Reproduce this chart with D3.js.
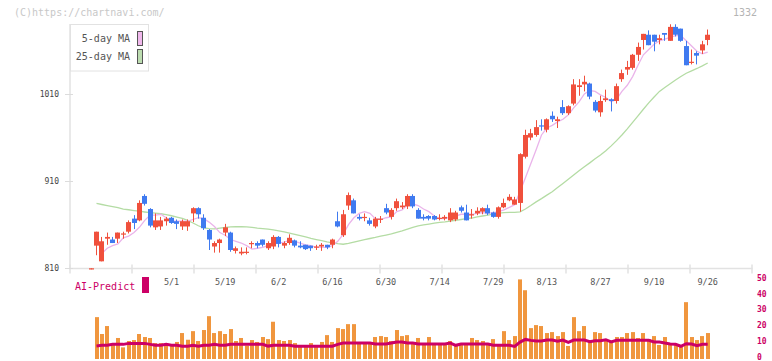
<!DOCTYPE html>
<html><head><meta charset="utf-8">
<script src="https://cdn.jsdelivr.net/npm/d3@7"></script>
<style>body{margin:0;background:#fff}svg{display:block}</style>
</head><body><svg id="c" width="772" height="361"></svg>
<script>
// ---- data ----
const dates = ["4/9","4/10","4/11","4/14","4/15","4/16","4/17","4/18","4/21","4/22","4/23","4/24","4/25","4/28","4/30",
"5/1","5/2","5/7","5/8","5/9","5/12","5/13","5/14","5/15","5/16","5/19","5/20","5/21","5/22","5/23","5/26","5/27","5/28","5/29","5/30",
"6/2","6/3","6/4","6/5","6/6","6/9","6/10","6/11","6/12","6/13","6/16","6/17","6/18","6/19","6/20","6/23","6/24","6/25","6/26","6/27","6/30",
"7/1","7/2","7/3","7/4","7/7","7/8","7/9","7/10","7/11","7/14","7/15","7/16","7/17","7/18","7/22","7/23","7/24","7/25","7/28","7/29","7/30","7/31",
"8/1","8/4","8/5","8/6","8/7","8/8","8/12","8/13","8/14","8/15","8/18","8/19","8/20","8/21","8/22","8/25","8/26","8/27","8/28","8/29",
"9/1","9/2","9/3","9/4","9/5","9/8","9/9","9/10","9/11","9/12","9/16","9/17","9/18","9/19","9/22","9/24","9/25","9/26"];
const open = [795,836,818,844,843,844,849,852,867,865,893,878,857,858,864,868,864,858,858,873,879,868,854,835,839,851,851,830,827,828,838,
839,843,833,835,846,836,839,842,836,837,836,835,835,837,837,864,848,882,888,869,868,865,858,866,879,869,879,880,881,893,877,
869,870,870,867,867,865,866,880,874,871,873,875,879,874,869,880,888,883,885,938,960,963,974,969,985,979,995,988,999,1018,1021,
1022,1001,989,1003,1004,1002,1027,1038,1040,1055,1072,1078,1078,1072,1080,1071,1087,1085,1065,1046,1057,1060,1072];
const high = [806,852,846,851,846,851,852,865,871,888,895,879,873,869,869,869,866,866,866,880,880,872,855,841,844,861,852,835,834,834,841,
841,843,841,848,847,841,849,843,841,837,836,837,839,837,844,875,877,897,890,872,873,868,869,870,884,879,890,886,895,895,879,
872,871,871,872,871,879,876,882,883,878,880,880,883,875,881,890,895,892,942,969,970,980,981,982,990,984,1003,997,1027,1027,1031,
1023,1003,1008,1015,1005,1022,1038,1048,1056,1069,1079,1083,1078,1078,1080,1090,1090,1085,1071,1061,1059,1071,1084];
const low = [788,825,818,837,839,839,844,850,855,864,882,857,854,854,859,861,855,854,853,863,867,854,831,828,828,847,829,827,825,826,833,
833,835,831,832,834,833,837,834,833,831,830,831,830,832,833,857,846,877,873,865,864,859,856,862,872,866,876,878,878,879,867,
865,865,865,865,865,863,864,874,865,867,871,872,871,868,867,879,887,883,875,936,957,961,968,966,978,971,986,986,997,1008,1013,
1004,989,984,1001,990,999,1024,1032,1038,1048,1061,1066,1059,1067,1071,1071,1076,1070,1043,1044,1044,1056,1066];
const close = [804,852,841,846,839,851,850,863,862,885,884,859,865,865,867,862,861,864,864,879,872,856,843,839,843,857,831,833,829,829,839,
836,837,839,846,838,839,845,836,834,832,833,835,837,834,843,858,872,894,873,867,869,861,867,867,874,877,887,882,893,881,867,
867,867,866,868,869,874,874,876,865,872,876,879,873,869,880,885,892,889,941,963,965,972,973,981,981,981,988,996,1021,1020,1024,
1007,991,1002,1005,1002,1019,1034,1041,1055,1064,1079,1066,1070,1074,1078,1087,1078,1071,1043,1047,1054,1067,1078];
const ma5 = [null,null,827,833,836,838,845,847,851,857,865,871,871,872,868,864,864,864,864,866,868,867,863,858,851,848,843,841,839,836,832,
833,834,836,839,839,840,842,841,839,837,836,834,834,834,836,841,849,860,868,873,875,873,867,866,868,869,875,877,883,884,882,
878,875,870,867,867,869,870,872,872,872,873,874,873,874,875,877,880,883,898,914,930,946,963,971,974,978,981,986,994,1001,1010,
1014,1013,1009,1006,1001,1004,1013,1020,1030,1043,1055,1061,1067,1071,1073,1075,1077,1077,1071,1065,1059,1056,1058];
const ma25 = [null,884.5,883.2,882,880.7,879.5,878,877.2,876.3,875.5,874.6,873.8,873.3,872.6,871.6,870.3,868.8,867.4,865,862,858.8,856.4,
855.6,855.2,856,856.8,857.5,857.7,857.7,857.5,857,856.2,855.6,855,854,853,851.8,850.4,849,847.5,846,844.3,843,841.7,840.4,839.3,
838.3,837.6,838.5,840,841.5,843,844.2,845.4,846.8,848.1,849.5,851.3,853,855,857,858.8,859.8,860.8,861.8,862.6,863.3,864.2,865.1,
866,866.9,867.7,868.9,870,871.1,872.2,873.3,874,874.2,874.2,874.8,878,882,886.2,890,894,897.8,902.6,907.4,912.2,917,922,926.6,
931,935.6,940,944.8,950.5,956.5,963,970,977.5,985,992.5,999.8,1006.5,1013,1017.5,1021.8,1026,1030,1033.8,1036.5,1039.3,1042.3,1045.6];
const volume = [null,26.3,15.7,20.7,9.2,13.2,7.3,11.3,11.9,15.7,13.8,13.2,10.0,10.0,9.6,8.8,10.7,16.3,12.1,17.5,11.3,18.2,26.9,16.3,17.5,
15.7,18.8,11.3,13.2,8.4,11.9,10.7,13.8,12.5,23.4,11.9,11.3,11.9,10.0,8.2,8.2,10.0,8.2,10.7,15.0,10.7,19.4,18.8,21.9,21.9,10.0,10.0,
9.4,13.8,14.4,13.8,11.3,18.2,14.4,15.0,9.4,13.2,9.4,13.8,9.4,9.4,9.4,11.3,8.8,9.4,10.0,13.2,11.9,11.3,9.4,12.5,9.4,17.5,11.9,14.4,
50.0,43.2,19.4,21.3,20.7,16.3,16.9,14.4,16.9,8.2,26.3,17.5,20.7,11.9,16.9,16.3,11.9,11.3,13.8,13.8,16.3,16.9,13.2,16.3,12.5,14.4,
8.8,13.8,9.4,9.4,8.8,35.7,13.8,11.9,14.4,16.3];
const volumeMA = [null,8.2,8.6,8.6,9.2,9.2,9.2,9.8,9.8,9.8,9.8,9.2,8.6,8.6,9.2,8.6,8.6,8.0,8.0,8.6,8.0,8.6,8.6,9.2,8.6,8.6,9.2,9.2,9.2,
9.2,9.2,9.2,9.2,8.1,8.6,8.6,8.6,8.6,8.0,8.0,8.0,8.0,8.0,8.0,8.0,8.0,9.2,10.0,10.0,10.0,10.0,10.0,10.0,9.4,9.4,9.4,10.0,10.7,10.7,
10.0,10.0,9.4,9.4,9.4,9.4,9.4,9.4,10.0,8.6,9.4,9.4,9.4,9.4,9.4,9.4,8.6,8.6,8.6,8.6,7.9,10.6,12.3,11.7,11.3,11.3,11.9,11.9,11.1,
11.9,10.4,11.9,11.9,11.9,10.9,11.5,11.5,12.1,10.7,11.7,11.7,11.7,11.7,11.7,11.7,11.7,10.7,10.7,10.0,9.4,9.2,8.0,9.6,9.4,8.3,9.2,9.2];
const priceTicks = [810, 910, 1010];
const volumeTicks = [0, 10, 20, 30, 40, 50];
const dateLabels = ["5/1","5/19","6/2","6/16","6/30","7/14","7/29","8/13","8/27","9/10","9/26"];
const gridSteps = d3.range(0, 12);

// ---- drawing ----
const svg = d3.select("#c");
const mono = "'DejaVu Sans Mono', monospace";
const RED = "#f0503c", BLUE = "#3f7af0";
const n = dates.length;
const x = d3.scaleLinear().domain([1, n - 1]).range([96.5, 707.7]);
const y = d3.scaleLinear().domain([810, 1110]).range([268.3, 6.85]).clamp(true);
const yv = d3.scaleLinear().domain([0, 50]).range([359, 279.4]);
const grid = d3.scaleLinear().domain([0, 11]).range([70, 752]);

// watermark & code
svg.append("text").attr("x", 14).attr("y", 16).attr("font-family", mono).attr("font-size", 10)
  .attr("fill", "#c8c8c8").text("(C)https://chartnavi.com/");
svg.append("text").attr("x", 757).attr("y", 16).attr("text-anchor", "end").attr("font-family", mono)
  .attr("font-size", 10).attr("fill", "#b4b4b4").text("1332");

// axes lines
const axisCol = "#e2e2e2";
svg.append("line").attr("x1", 70).attr("x2", 70).attr("y1", 24).attr("y2", 269).attr("stroke", axisCol).attr("stroke-width", 1.5);
svg.append("line").attr("x1", 69).attr("x2", 752.5).attr("y1", 268.5).attr("y2", 268.5).attr("stroke", axisCol).attr("stroke-width", 1.5);
svg.selectAll(".gt").data(gridSteps).join("line")
  .attr("x1", d => grid(d)).attr("x2", d => grid(d)).attr("y1", 264.5).attr("y2", 273.5)
  .attr("stroke", axisCol).attr("stroke-width", 1.5);

// price ticks
svg.selectAll(".pt").data(priceTicks).join("line")
  .attr("x1", 65).attr("x2", 73).attr("y1", d => Math.round(y(d)) + 0.5).attr("y2", d => Math.round(y(d)) + 0.5)
  .attr("stroke", "#dcdcdc");
svg.selectAll(".pl").data(priceTicks).join("text")
  .attr("x", 59).attr("y", d => y(d) + 3).attr("text-anchor", "end")
  .attr("font-family", mono).attr("font-size", 8).attr("fill", "#444").text(d => d);

// date labels
svg.selectAll(".dl").data(dateLabels).join("text")
  .attr("x", d => x(dates.indexOf(d))).attr("y", 285).attr("text-anchor", "middle")
  .attr("font-family", mono).attr("font-size", 8.5).attr("fill", "#555").text(d => d);

// legend
svg.append("rect").attr("x", 70.5).attr("y", 24.5).attr("width", 78).attr("height", 46.5)
  .attr("fill", "#fff").attr("stroke", "#e2e2e2");
const legend = [{t: "5-day MA", c: "#f0b8ec", y: 31}, {t: "25-day MA", c: "#bcdcb0", y: 49}];
legend.forEach(l => {
  svg.append("text").attr("x", 130).attr("y", l.y + 11).attr("text-anchor", "end")
    .attr("font-family", mono).attr("font-size", 10).attr("fill", "#555").text(l.t);
  svg.append("rect").attr("x", 137.5).attr("y", l.y + 0.5).attr("width", 5).attr("height", 14)
    .attr("fill", l.c).attr("stroke", "#555");
});

// moving averages
const idx = d3.range(n);
const mkLine = arr => d3.line().defined(i => arr[i] != null).x(i => x(i)).y(i => y(arr[i]));
svg.append("path").attr("d", mkLine(ma25)(idx)).attr("fill", "none").attr("stroke", "#b4dca4").attr("stroke-width", 1.3);
svg.append("path").attr("d", mkLine(ma5)(idx)).attr("fill", "none").attr("stroke", "#eab4ea").attr("stroke-width", 1.3);

// candles
const cg = svg.append("g");
idx.forEach(i => {
  const o = open[i], c = close[i], h = high[i], l = low[i];
  const col = c >= o ? RED : BLUE;
  const bx = Math.round(x(i) - 2.5);
  const yh = y(h), yl = y(l);
  cg.append("rect").attr("x", bx + 2).attr("width", 1).attr("y", yh).attr("height", Math.max(1, yl - yh)).attr("fill", col);
  const top = y(Math.max(o, c)), bot = y(Math.min(o, c));
  cg.append("rect").attr("x", bx).attr("width", 5).attr("y", top).attr("height", Math.max(1.2, bot - top)).attr("fill", col);
});

// AI-Predict
svg.append("text").attr("x", 75).attr("y", 290).attr("font-family", mono).attr("font-size", 10)
  .attr("fill", "#cc0066").text("AI-Predict");
svg.append("rect").attr("x", 142).attr("y", 277).attr("width", 7).attr("height", 16).attr("fill", "#cc0066");

// volume bars
svg.selectAll(".vb").data(idx.filter(i => volume[i] != null)).join("rect")
  .attr("x", i => Math.round(x(i) - 2)).attr("width", 4)
  .attr("y", i => yv(volume[i])).attr("height", i => yv(0) - yv(volume[i]))
  .attr("fill", "#f0963e");
svg.append("path").attr("d", d3.line().defined(i => volumeMA[i] != null).x(i => x(i)).y(i => yv(volumeMA[i]))(idx))
  .attr("fill", "none").attr("stroke", "#cc0066").attr("stroke-width", 3);

// volume axis labels
svg.selectAll(".vl").data(volumeTicks).join("text")
  .attr("x", 757).attr("y", d => yv(d) + 1.2).attr("font-family", mono).attr("font-size", 8)
  .attr("font-weight", "bold").attr("fill", "#cc0066").text(d => d);
</script></body></html>
